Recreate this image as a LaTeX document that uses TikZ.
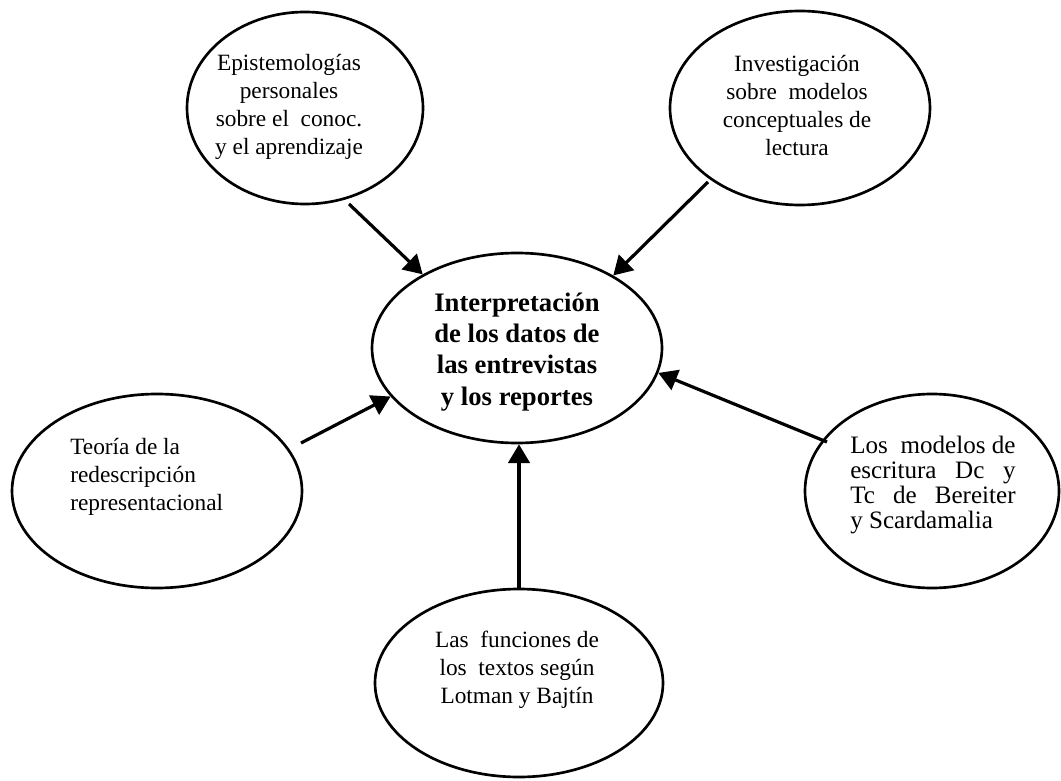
\documentclass[tikz,border=0pt]{standalone}
\usepackage{fontspec}
\setmainfont{Liberation Serif}
\usetikzlibrary{arrows.meta,shapes.geometric}

\tikzset{
  bubble/.style={draw=black, line width=2pt, ellipse, inner sep=0pt},
  txt/.style={inner sep=0pt, align=center, font=\fontsize{17.5}{21}\selectfont},
  txtl/.style={inner sep=0pt, align=left, font=\fontsize{17.5}{21}\selectfont},
  bigtxt/.style={inner sep=0pt, align=center, font=\fontsize{20}{23.4}\selectfont\bfseries},
  feed/.style={draw=black, line width=2.4pt, -{Triangle[length=14pt,width=16pt]}},
}

\begin{document}
\begin{tikzpicture}[x=0.75pt,y=-0.75pt]
\useasboundingbox (0,0) rectangle (1061,781);

% outlines
\node[bubble, minimum width=236*0.75pt, minimum height=192*0.75pt] (tl) at (305,108) {};
\node[bubble, minimum width=260*0.75pt, minimum height=194*0.75pt] (tr) at (800,108) {};
\node[bubble, minimum width=290*0.75pt, minimum height=190*0.75pt] (c)  at (517,348) {};
\node[bubble, minimum width=290*0.75pt, minimum height=194*0.75pt] (l)  at (157,491) {};
\node[bubble, minimum width=254*0.75pt, minimum height=194*0.75pt] (r)  at (932,491) {};
\node[bubble, minimum width=288*0.75pt, minimum height=188*0.75pt] (b)  at (519,683) {};

% labels
\node[txt] (tlt) at (289,107) {Epistemologías\\personales\\sobre el\ \ conoc.\\y el aprendizaje};
\node[txt] (trt) at (797,106) {Investigación\\sobre\ \ modelos\\conceptuales de\\lectura};
\node[bigtxt] (ct) at (517,352) {Interpretación\\de los datos de\\las entrevistas\\y los reportes};
\node[txtl, anchor=west] (lt) at (70,477) {Teoría de la\\redescripción\\representacional};
\node[txtl, anchor=west, font=\fontsize{18.8}{18.8}\selectfont] (rt) at (850,485)
  {\makebox[124pt][s]{Los\ \ modelos de}\\\makebox[124pt][s]{escritura Dc y}\\\makebox[124pt][s]{Tc de Bereiter}\\y Scardamalia};
\node[txt] (bt) at (517,670) {Las\ \ funciones de\\los\ \ textos según\\Lotman y\ Bajtín};

% arrows into the central bubble
\coordinate (s1) at (349,204);
\coordinate (s2) at (708,182);
\coordinate (s3) at (301,443);
\coordinate (s4) at (827,442);
\draw[feed] (s1) -- (c.142.5);
\draw[feed] (s2) -- (c.37.3);
\draw[feed] (s3) -- (c.201.6);
\draw[feed] (s4) -- (c.350);
\draw[feed] (b.north) -- (b.north |- c.south);
\end{tikzpicture}
\end{document}
